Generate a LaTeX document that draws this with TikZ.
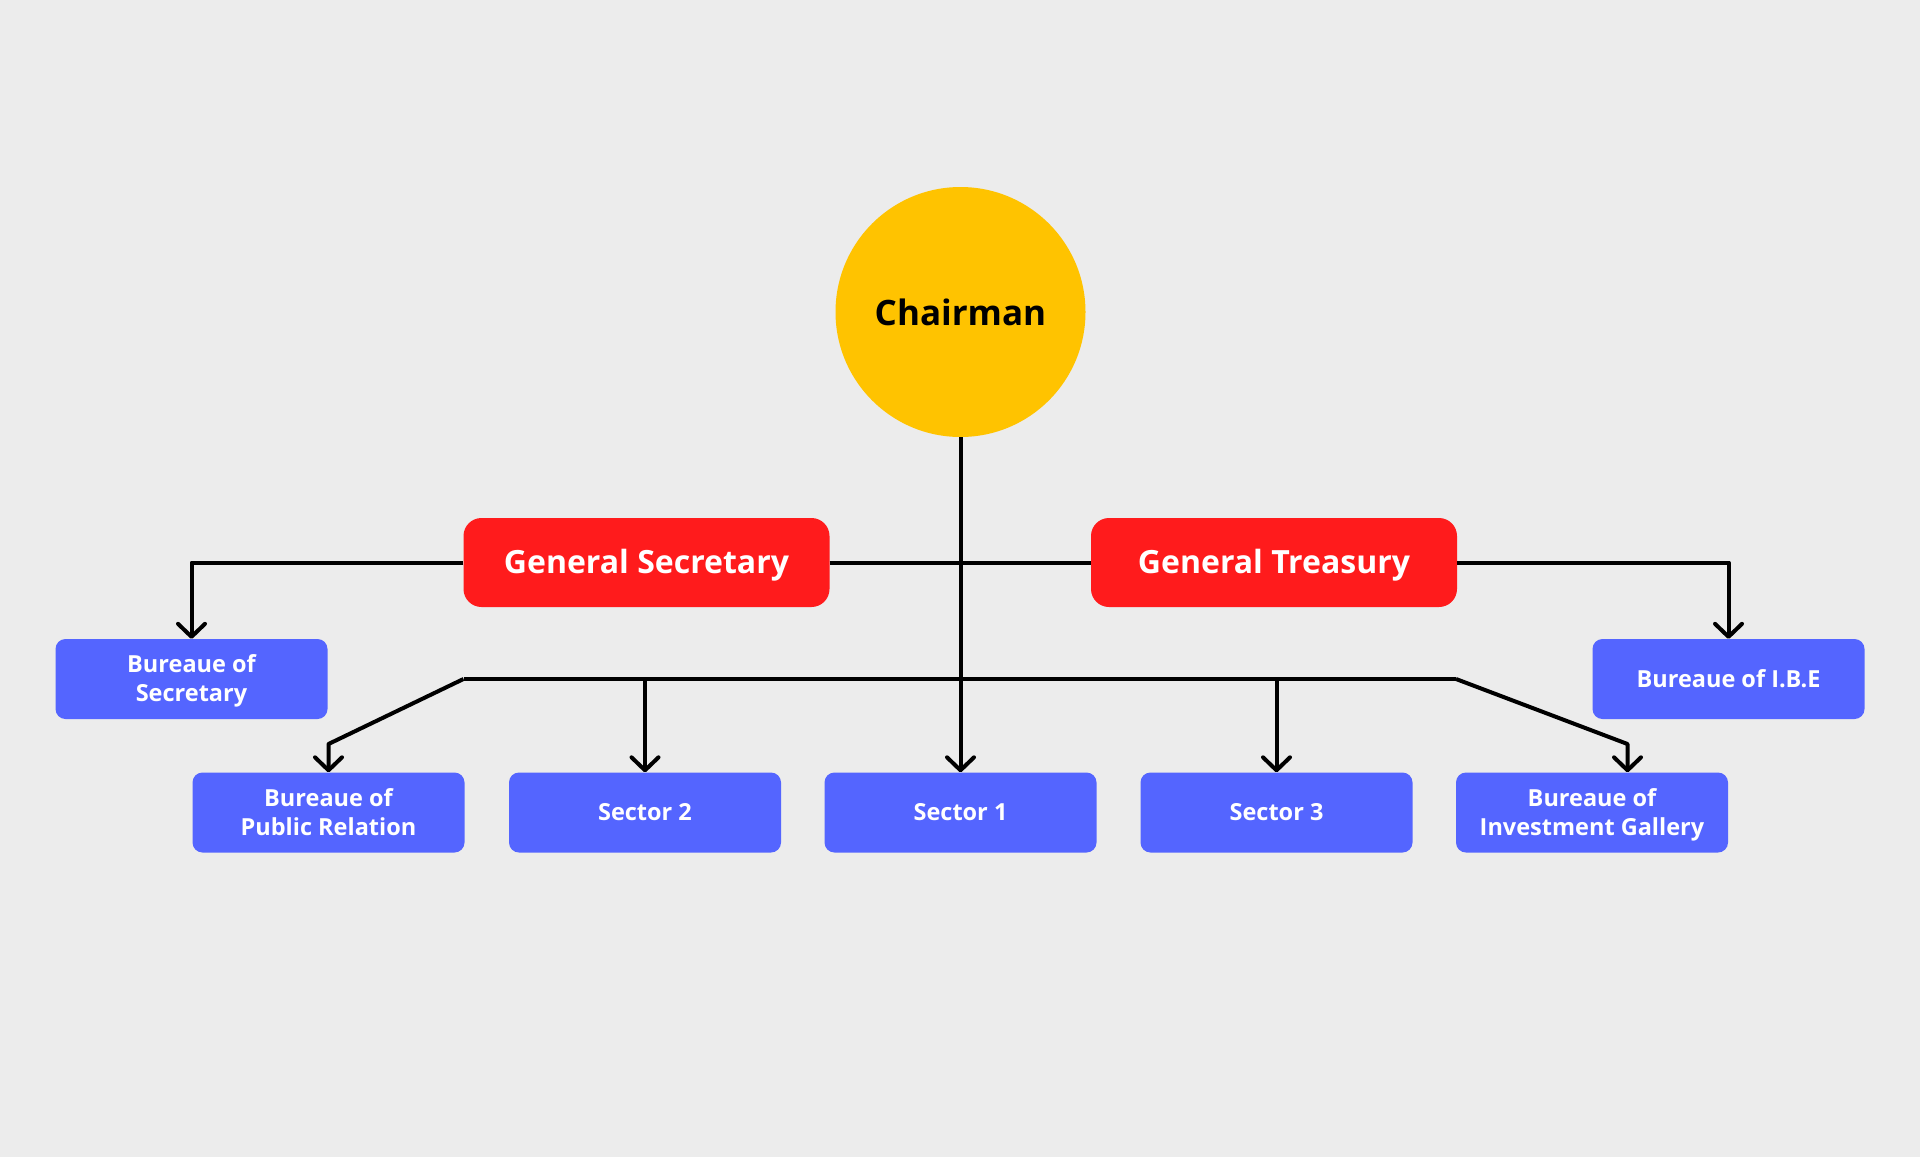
\documentclass[tikz,border=0pt]{standalone}
\usepackage{fontspec}
\setmainfont{Open Sans}
\usetikzlibrary{arrows.meta}
\definecolor{bgc}{HTML}{ECECEC}
\definecolor{chairc}{HTML}{FFC300}
\definecolor{redc}{HTML}{FF1B1C}
\definecolor{bluec}{HTML}{5465FF}
\newcommand{\twolines}[2]{\rule{0pt}{22.8pt}#1\\#2\rule[-6pt]{0pt}{0pt}}
\begin{document}
\begin{tikzpicture}[x=1pt,y=-1pt,
  conn/.style={line width=4pt, black, line join=round},
  arr/.style={conn,-{Straight Barb[length=13pt,width=27pt,round]}},
  chairbox/.style={circle, fill=chairc, minimum size=250pt, inner sep=0pt,
    font=\fontsize{35}{40}\selectfont\bfseries, text=black},
  redbox/.style={rectangle, rounded corners=18pt, fill=redc, minimum width=366pt,
    minimum height=89pt, inner sep=0pt, text height=22.8pt, text depth=0pt,
    text=white, font=\fontsize{32}{36}\selectfont\bfseries},
  twobox/.style={rectangle, rounded corners=10pt, fill=bluec, minimum width=272pt,
    minimum height=80pt, inner sep=0pt, text=white, align=center,
    font=\fontsize{23.5}{29}\selectfont\bfseries},
  bluebox/.style={twobox, text height=16.8pt, text depth=0pt}
]
\fill[bgc] (0,0) rectangle (1920,1157);
\useasboundingbox (0,0) rectangle (1920,1157);

\node[chairbox] (chair) at (960.5,312) {Chairman};
\node[redbox] (gs) at (646.5,562.5) {General Secretary};
\node[redbox] (gt) at (1274,562.5) {General Treasury};
\node[twobox] (bsec) at (191.5,679) {\twolines{Bureaue of}{Secretary}};
\node[bluebox] (ibe) at (1728.5,679) {Bureaue of I.B.E};
\node[twobox] (pr) at (328.5,812.5) {\twolines{Bureaue of}{Public Relation}};
\node[bluebox] (s2) at (645,812.5) {Sector 2};
\node[bluebox] (s1) at (960.5,812.5) {Sector 1};
\node[bluebox] (s3) at (1276.5,812.5) {Sector 3};
\node[twobox] (ig) at (1592,812.5) {\twolines{Bureaue of}{Investment Gallery}};

\coordinate (bl) at (463.5,679);
\coordinate (br) at (1456,679);
\coordinate (prk) at (328.5,744);
\coordinate (igk) at (1627.5,744);

\draw[arr] (chair.south) -- (s1.north);
\draw[conn] (gs.east) -- (gt.west);
\draw[arr] (gs.west) -| (bsec.north);
\draw[arr] (gt.east) -| (ibe.north);
\draw[conn] (bl) -- (br);
\draw[arr] (bl) -- (prk) -- (prk |- pr.north);
\draw[arr] (s2.north |- bl) -- (s2.north);
\draw[arr] (s3.north |- bl) -- (s3.north);
\draw[arr] (br) -- (igk) -- (igk |- ig.north);
\end{tikzpicture}
\end{document}
